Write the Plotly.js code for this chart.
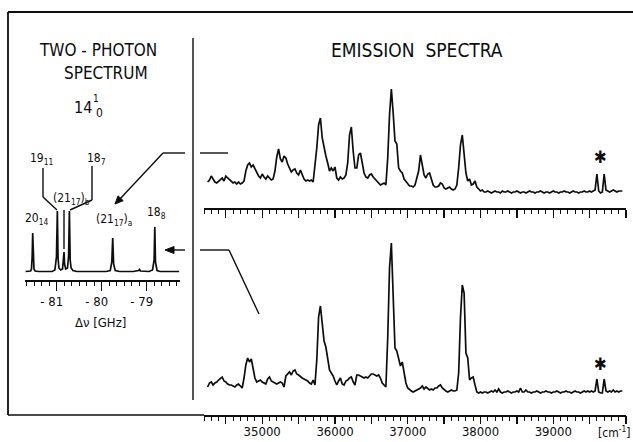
<!DOCTYPE html>
<html>
<head>
<meta charset="utf-8">
<script src="https://cdn.plot.ly/plotly-3.0.1.min.js"></script>
<style>html,body{margin:0;padding:0;background:#fff;}#chart{width:633px;height:442px;}</style>
</head>
<body>
<div id="chart"></div>
<script>
// ---------------- DATA ----------------
// Two-photon spectrum 14^1_0 : detuning (GHz) and signal (arb. units)
const tpGHz = [-81.69,-81.62,-81.58,-81.56,-81.545,-81.533,-81.52,-81.505,-81.48,-81.40,-81.25,-81.10,-81.04,-81.005,-80.985,-80.97,-80.95,-80.91,-80.87,-80.85,-80.837,-80.825,-80.80,-80.76,-80.735,-80.718,-80.70,-80.68,-80.64,-80.55,-80.30,-79.90,-79.81,-79.775,-79.755,-79.735,-79.70,-79.60,-79.30,-79.18,-79.16,-79.14,-78.95,-78.87,-78.835,-78.82,-78.805,-78.77,-78.70,-78.50,-78.28];
const tpSig = [0.5,0.5,1,3,15,39,15,3,1,0.5,0.5,0.5,2,15,61,14,4,2,3,10,20,8,3,4,16,61,12,4,1.5,0.5,0.3,0.5,1.5,10,34,8,1.5,0.5,0.5,1.5,2.5,1,0.5,2,12,45,10,1.5,0.5,0.5,0.5];
const tpTickVals = [-81,-80,-79];
const tpTickText = ['- 81','- 80','- 79'];

// Emission spectra: sampled every 25 cm-1 starting at 34250 cm-1
const emStart = 34250, emStep = 25;
const emUpper = [
 11,13,17,14,11,10,12,14,15,12,   // 34250
 17,15,13,12,10,11,9,11,9,10,     // 34500
 12,22,28,30,26,28,24,20,17,15,   // 34750
 19,16,14,17,15,13,14,22,36,44,   // 35000
 34,31,37,35,29,24,21,23,24,20,   // 35250
 18,23,19,14,12,13,12,13,11,26,   // 35500
 45,68,75,55,44,37,30,22,25,22,   // 35750
 26,15,13,16,14,15,18,30,58,66,   // 36000
 42,25,25,38,40,31,20,16,15,18,   // 36250
 19,16,14,11,10,8,9,10,8,35,      // 36500
 78,104,80,52,49,25,22,20,14,12,  // 36750
 10,7,7,6,8,14,22,38,26,18,       // 37000
 15,19,20,14,8,6,6,7,10,9,        // 37250
 5,4,5,6,4,3,4,8,25,48,           // 37500
 58,42,20,12,14,8,9,12,6,4,       // 37750
 2,3,1,1,2,1,0,1,2,1,             // 38000
 1,0,2,1,1,2,1,0,1,1,             // 38250
 2,1,0,1,1,0,1,2,1,1,             // 38500
 0,1,1,2,1,0,1,1,0,1,             // 38750
 2,1,1,0,1,1,2,1,1,0,             // 39000
 1,2,1,1,0,1,1,2,1,1,             // 39250
 2,1,2,3,19,2,0,1,19,3,           // 39500
 2,1,2,3,2,1,2,2,2                // 39750
];
const emLower = [
 6,10,11,8,10,11,13,15,16,12,     // 34250
 11,9,8,8,7,6,8,9,7,5,            // 34500
 15,28,35,31,34,25,15,11,12,13,   // 34750
 11,10,9,14,16,12,11,10,9,10,     // 35000
 11,10,6,17,19,21,18,22,23,19,    // 35250
 18,16,15,14,13,12,10,9,13,8,     // 35500
 33,76,87,70,52,46,32,23,20,17,   // 35750
 12,8,12,15,9,8,12,13,15,16,      // 36000
 11,8,18,18,17,16,15,16,15,17,    // 36250
 19,19,18,17,18,15,10,8,6,55,     // 36500
 125,150,105,45,42,33,27,31,18,10,// 36750
 5,3,2,1,2,3,4,5,7,4,             // 37000
 6,4,3,4,3,5,5,7,8,5,             // 37250
 3,2,1,2,3,2,2,3,20,75,           // 37500
 108,100,40,35,13,15,16,8,1,0,    // 37750
 1,0,1,1,0,1,2,1,3,1,             // 38000
 4,1,0,1,1,2,1,0,1,1,             // 38250
 2,1,5,1,1,3,1,1,0,1,             // 38500
 1,2,1,0,1,1,2,1,1,0,             // 38750
 1,1,2,1,0,1,1,2,1,1,             // 39000
 0,1,2,1,1,0,1,2,1,2,             // 39250
 1,2,1,2,14,1,0,0,14,2,           // 39500
 1,2,1,3,1,2,1,2,2                // 39750
];
const emLabelVals = [35000,36000,37000,38000,39000];
const emLabelText = ['35000','36000','37000','38000','39000'];
const emLongTicks = [34500,35000,35500,36000,36500,37000,37500,38000,38500,39000,39500,40000];

// ---------------- STYLE / LAYOUT ----------------
const W = 633, H = 442, INK = '#0d0d0d';
const FONT = '"DejaVu Sans Condensed", "DejaVu Sans", sans-serif';
const X = p => p / W, Y = p => 1 - p / H;
const seg = (x0, y0, x1, y1, w) => ({type:'line', xref:'paper', yref:'paper',
  x0:X(x0), y0:Y(y0), x1:X(x1), y1:Y(y1), line:{color:INK, width:w || 1.4}});
const tri = (pts) => ({type:'path', xref:'paper', yref:'paper',
  path:'M' + pts.map(p => X(p[0]) + ',' + Y(p[1])).join(' L') + ' Z',
  fillcolor:INK, line:{color:INK, width:1}});
const txt = (s, px, py, size, anchor) => ({text:s, xref:'paper', yref:'paper', x:X(px), y:Y(py),
  xanchor:anchor || 'center', yanchor:'middle', showarrow:false, font:{family:FONT, size:size, color:INK}});

const line = {color:INK, width:1.7};
const traces = [
  {type:'scatter', mode:'lines', x:tpGHz, y:tpSig, xaxis:'x3', yaxis:'y3', line:line, hoverinfo:'skip'},
  {type:'scatter', mode:'lines', x0:emStart, dx:emStep, y:emUpper, xaxis:'x2', yaxis:'y2', line:line, hoverinfo:'skip'},
  {type:'scatter', mode:'lines', x0:emStart, dx:emStep, y:emLower, xaxis:'x', yaxis:'y', line:line, hoverinfo:'skip'},
  {type:'scatter', mode:'lines', x:[], y:[], xaxis:'x4', yaxis:'y', hoverinfo:'skip'}
];

const EMDOM = [X(204), X(626)], EMRANGE = [34200, 40000];
const minorEm = {tickmode:'linear', tick0:34200, dtick:100, ticks:'outside', ticklen:4, tickwidth:1, tickcolor:INK};

const layout = {
  width:W, height:H, margin:{l:0, r:0, t:0, b:0},
  paper_bgcolor:'#fff', plot_bgcolor:'rgba(0,0,0,0)', showlegend:false,
  // lower emission axis: labels every 1000 cm-1 and short ticks every 100
  xaxis:{domain:EMDOM, range:EMRANGE, anchor:'y',
    showline:true, linecolor:INK, linewidth:1.6, showgrid:false, zeroline:false,
    ticks:'outside', ticklen:4, tickwidth:1, tickcolor:INK,
    tickmode:'array', tickvals:emLabelVals, ticktext:emLabelText,
    tickfont:{family:FONT, size:13, color:INK}, minor:minorEm},
  // long ticks every 500 cm-1 on the lower axis
  xaxis4:{domain:EMDOM, range:EMRANGE, anchor:'y', overlaying:'x',
    showline:false, showgrid:false, zeroline:false, showticklabels:false,
    ticks:'outside', ticklen:8, tickwidth:1.3, tickcolor:INK,
    tickmode:'array', tickvals:emLongTicks},
  // upper emission axis (no labels)
  xaxis2:{domain:EMDOM, range:EMRANGE, anchor:'y2',
    showline:true, linecolor:INK, linewidth:1.6, showgrid:false, zeroline:false,
    ticks:'outside', ticklen:8, tickwidth:1.3, tickcolor:INK, showticklabels:false,
    tickmode:'array', tickvals:emLongTicks, minor:minorEm},
  yaxis: {domain:[Y(415), Y(225)], range:[-22, 168], visible:false},
  yaxis2:{domain:[Y(208), Y(60)], range:[-15, 133], visible:false},
  xaxis3:{domain:[X(25), X(180)], range:[-81.704, -78.26], anchor:'y3',
    showline:true, linecolor:INK, linewidth:1.6, showgrid:false, zeroline:false,
    ticks:'outside', ticklen:9, tickwidth:1.3, tickcolor:INK,
    tickmode:'array', tickvals:tpTickVals, ticktext:tpTickText, ticklabelshift:-5,
    tickfont:{family:FONT, size:13, color:INK},
    minor:{tickmode:'linear', tick0:-81, dtick:1/6, ticks:'outside', ticklen:4, tickwidth:1, tickcolor:INK}},
  yaxis3:{domain:[Y(280), Y(200)], range:[-8, 72], visible:false},
  shapes:[
    seg(8,12,633,12,1.8), seg(8,12,8,415,1.8), seg(8,415,204,415,1.6),
    seg(193,38,193,400,1.4),
    seg(43,168,43,197), seg(43,197,57,210),
    seg(92,166,92,200), seg(92,200,70,210),
    seg(64,210,64,249),
    seg(163,153,185,153), seg(200,153,228,153), seg(163,153,119,200),
    tri([[115,204],[123.2,200.7],[118.0,195.8]]),
    seg(172,250,185,250), seg(200,250,229,250), seg(229,250,259,314),
    tri([[165,250],[174,246.5],[174,253.5]])
  ],
  annotations:[
    txt('TWO - PHOTON', 98, 50, 17),
    txt('SPECTRUM', 106, 73, 17),
    txt('EMISSION  SPECTRA', 417, 50, 19),
    txt('14', 83, 107, 16),
    txt('1', 96, 98, 10),
    txt('0', 99, 113, 12),
    txt('19<sub>11</sub>', 28, 159, 12, 'left'),
    txt('18<sub>7</sub>', 85, 159, 12, 'left'),
    txt('(21<sub>17</sub>)<sub>b</sub>', 51, 199, 12, 'left'),
    txt('20<sub>14</sub>', 23, 219, 12, 'left'),
    txt('(21<sub>17</sub>)<sub>a</sub>', 94, 220, 12, 'left'),
    txt('18<sub>8</sub>', 145, 213, 12, 'left'),
    txt('Δν [GHz]', 100, 322, 13),
    txt('✱', 600, 157, 17),
    txt('✱', 600, 364, 17),
    txt('[cm<sup>-1</sup>]', 632, 432, 12, 'right')
  ]
};

Plotly.newPlot('chart', traces, layout, {staticPlot:true, displayModeBar:false});
</script>
</body>
</html>
